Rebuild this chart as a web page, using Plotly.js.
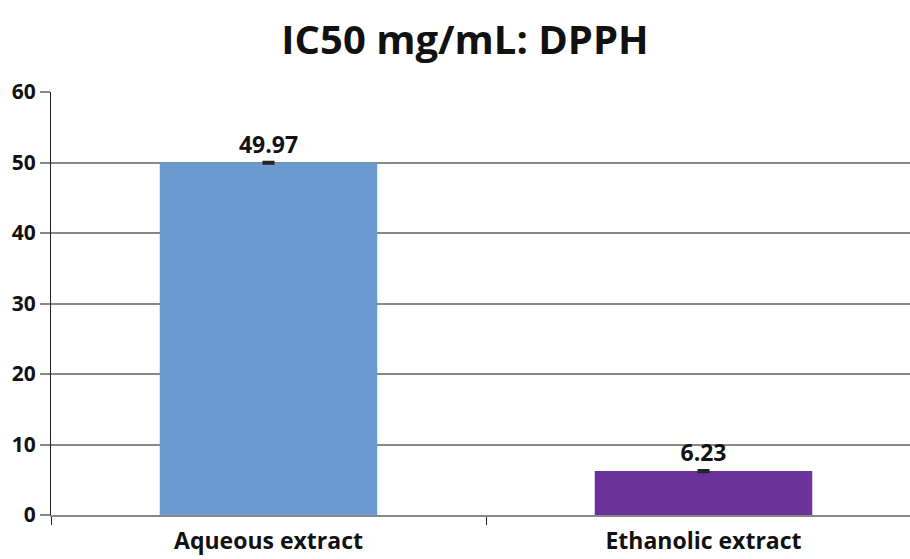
<!DOCTYPE html>
<html>
<head>
<meta charset="utf-8">
<script src="https://cdn.plot.ly/plotly-3.0.1.min.js"></script>
<style>html,body{margin:0;padding:0;background:#fff;}#chart{width:910px;height:559px;}</style>
</head>
<body>
<div id="chart"></div>
<script>
const categories = ["Aqueous extract", "Ethanolic extract"];
const values = [49.97, 6.23];
const errors = [0.15, 0.15];
const labels = ["49.97", "6.23"];
const barColors = ["#6a9acf", "#6b3399"];
const yTicks = [0, 10, 20, 30, 40, 50, 60];

const font = "Open Sans, Noto Sans, sans-serif";
const trace = {
  type: "bar",
  x: categories,
  y: values,
  width: 0.5,
  marker: {color: barColors},
  text: labels,
  textposition: "outside",
  textfont: {family: font, size: 23, color: "#111", weight: "bold"},
  cliponaxis: false,
  error_y: {type: "data", array: errors, visible: true, color: "#222", thickness: 2, width: 6},
  hoverinfo: "none"
};
const layout = {
  width: 910, height: 559,
  margin: {l: 51, r: 0, t: 92, b: 44},
  paper_bgcolor: "#fff", plot_bgcolor: "#fff",
  showlegend: false,
  title: {text: "<b>IC50 mg/mL: DPPH</b>", x: 0.511, xanchor: "center", y: 0.928, yanchor: "middle",
          font: {family: font, size: 40, color: "#111"}},
  xaxis: {
    type: "category", range: [-0.5, 1.4747], tickson: "boundaries",
    ticks: "outside", ticklen: 8, tickcolor: "#222", tickwidth: 1,
    showline: true, linecolor: "#888", linewidth: 2, showgrid: false,
    ticklabelstandoff: 4,
    tickfont: {family: font, size: 23, color: "#111", weight: "bold"}
  },
  yaxis: {
    range: [0, 60], tickvals: yTicks, ticktext: yTicks.map(String),
    ticks: "outside", ticklen: 10, tickcolor: "#888", tickwidth: 2,
    showline: true, linecolor: "#222", linewidth: 1,
    showgrid: true, gridcolor: "#888", gridwidth: 2, zeroline: false,
    tickfont: {family: font, size: 21, color: "#111", weight: "bold"}
  },
  bargap: 0.5
};
Plotly.newPlot("chart", [trace], layout, {displayModeBar: false, staticPlot: true});
</script>
</body>
</html>
